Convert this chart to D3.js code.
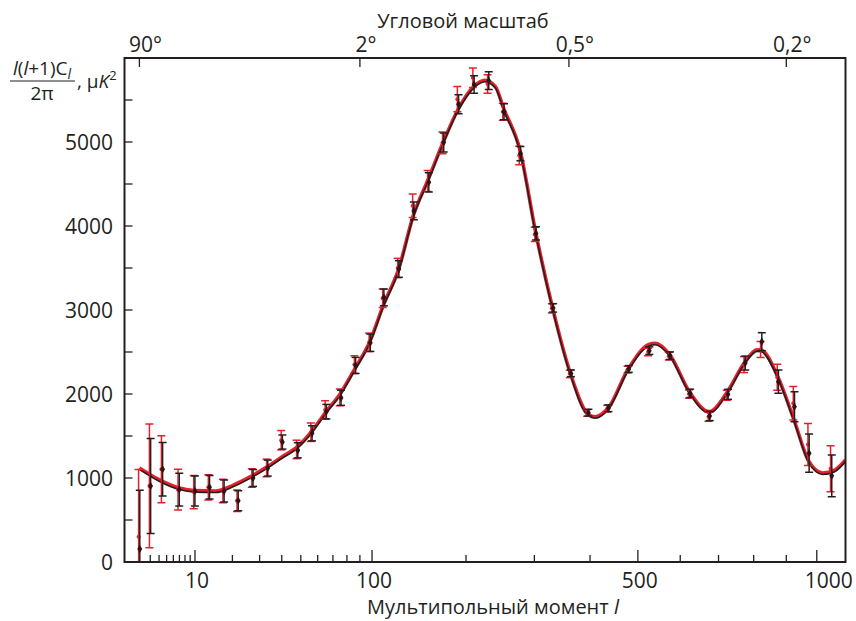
<!DOCTYPE html>
<html>
<head>
<meta charset="utf-8">
<script src="https://cdn.jsdelivr.net/npm/d3@7"></script>
<style>
  body { margin: 0; background: #fff; }
  svg text { font-family: "Open Sans", "Noto Sans", sans-serif; fill: #231f20; }
</style>
</head>
<body>
<div id="chart"></div>
<script>
// binned multipoles
const ells = [2, 3, 4.4, 6.9, 9.9, 13.3, 17.3, 21.8, 27.2, 33.3, 40.1, 48.1, 56.3, 65.3, 75.4,
  86.3, 98.2, 110, 124, 139, 155, 172, 190, 210, 230, 252, 277, 302, 331, 363, 396, 436,
  479, 525, 574, 624, 675, 725, 774, 823, 874, 925, 973, 1050];

// black data set
const blackD = [155, 905, 1105, 862, 845, 890, 845, 730, 1000, 1118, 1428, 1330, 1532, 1790, 1955,
  2340, 2610, 3150, 3488, 4180, 4520, 4995, 5450, 5685, 5730, 5360, 4862, 3912, 3025, 2246, 1778, 1830,
  2298, 2516, 2456, 2008, 1738, 1996, 2368, 2623, 2147, 1849, 1296, 1026];
const blackErr = [700, 565, 318, 195, 178, 141, 131, 119, 100, 95, 84, 90, 90, 86, 90,
  96, 103, 100, 99, 105, 114, 113, 113, 105, 105, 95, 85, 80, 50, 40, 40, 40,
  40, 45, 45, 50, 55, 60, 83, 107, 139, 179, 228, 249];

// red data set
const redD = [300, 906, 1105, 861, 833, 889, 845, 730, 1000, 1120, 1450, 1340, 1545, 1810, 1960,
  2350, 2615, 3140, 3500, 4240, 4535, 4990, 5510, 5765, 5690, 5360, 4840, 3900, 3020, 2240, 1775, 1825,
  2290, 2500, 2450, 2000, 1730, 1985, 2350, 2530, 2200, 1890, 1400, 1110];
const redErr = [800, 737, 399, 242, 198, 151, 140, 128, 110, 105, 115, 110, 110, 110, 100,
  105, 110, 110, 115, 140, 125, 130, 150, 115, 110, 100, 110, 85, 55, 45, 40, 40,
  40, 45, 45, 50, 55, 60, 95, 95, 155, 200, 250, 275];

// best-fit model curve
const modelL = [2, 4, 7, 10, 15, 20, 26, 33, 40, 48, 56, 65, 75, 86, 98, 110, 124, 139, 155, 172,
  190, 210, 225, 240, 252, 277, 302, 331, 363, 396, 410, 436, 479, 525, 540, 574, 624, 675, 725,
  774, 810, 823, 874, 925, 973, 1020, 1060, 1100];
const modelD = [1120, 980, 880, 850, 845, 910, 1010, 1130, 1250, 1370, 1545, 1780, 2000, 2300, 2620,
  3060, 3480, 4130, 4560, 5000, 5390, 5660, 5735, 5660, 5400, 4900, 3930, 3020, 2240, 1760, 1730,
  1830, 2300, 2590, 2605, 2470, 2020, 1790, 2030, 2380, 2525, 2520, 2200, 1690, 1200, 1060, 1090, 1214];

const xMajor = [10, 100, 500, 1000];
const xMinor = [3, 4, 5, 6, 7, 8, 9, 20, 30, 40, 50, 60, 70, 80, 90, 200, 300, 400, 600, 700, 800, 900];
const yMajor = [0, 1000, 2000, 3000, 4000, 5000];
const yMinor = [500, 1500, 2500, 3500, 4500, 5500];
const angleDeg = [90, 2, 0.5, 0.2];
const angleLabels = ["90°", "2°", "0,5°", "0,2°"];

const W = 856, H = 621;
const mLeft = 124.5, mRight = 845.5, mTop = 58, mBottom = 562;
const ink = "#231f20", red = "#e5202a";

const svg = d3.select("#chart").append("svg")
  .attr("width", W).attr("height", H);

const x = d3.scalePow().exponent(0.4).domain([1, 1100]).range([mLeft, mRight]);
const y = d3.scaleLinear().domain([0, 6000]).range([mBottom, mTop]);

svg.append("clipPath").attr("id", "plot")
  .append("rect").attr("x", mLeft).attr("y", mTop)
  .attr("width", mRight - mLeft).attr("height", mBottom - mTop);

// model curves: red thick, black thin over it
let line = d3.line().x((d, i) => x(modelL[i])).y(d => y(d)).curve(d3.curveMonotoneX);
let curves = svg.append("g").attr("clip-path", "url(#plot)");
curves.append("path").attr("d", line(modelD))
  .attr("fill", "none").attr("stroke", red).attr("stroke-width", 3.6);
curves.append("path").attr("d", line(modelD))
  .attr("transform", "translate(0,1.5)")
  .attr("fill", "none").attr("stroke", ink).attr("stroke-width", 1.6);

// error bars
function drawBars(g, vals, errs, color, dx) {
  let bars = g.selectAll("g").data(ells).enter().append("g")
    .attr("stroke", color).attr("stroke-width", 1.5);
  bars.append("line")
    .attr("x1", (d) => x(d) + dx).attr("x2", (d) => x(d) + dx)
    .attr("y1", (d, i) => y(vals[i] - errs[i])).attr("y2", (d, i) => y(vals[i] + errs[i]));
  bars.append("line")
    .attr("x1", (d) => x(d) + dx - 4).attr("x2", (d) => x(d) + dx + 4)
    .attr("y1", (d, i) => y(vals[i] + errs[i])).attr("y2", (d, i) => y(vals[i] + errs[i]));
  bars.append("line")
    .attr("x1", (d) => x(d) + dx - 4).attr("x2", (d) => x(d) + dx + 4)
    .attr("y1", (d, i) => y(vals[i] - errs[i])).attr("y2", (d, i) => y(vals[i] - errs[i]));
}
let redG = svg.append("g").attr("clip-path", "url(#plot)");
let blackG = svg.append("g").attr("clip-path", "url(#plot)");
drawBars(redG, redD, redErr, red, -0.8);
drawBars(blackG, blackD, blackErr, ink, 0.4);

redG.selectAll("circle").data(ells).enter().append("circle")
  .attr("cx", d => x(d) - 0.8).attr("cy", (d, i) => y(redD[i]))
  .attr("r", 2).attr("fill", red);
blackG.selectAll("path.pt").data(ells).enter().append("path")
  .attr("class", "pt")
  .attr("d", d3.symbol().type(d3.symbolDiamond).size(20))
  .attr("transform", (d, i) => "translate(" + (x(d) + 0.4) + "," + y(blackD[i]) + ")")
  .attr("fill", "#2b1416");

// frame
svg.append("rect").attr("x", mLeft).attr("y", mTop)
  .attr("width", mRight - mLeft).attr("height", mBottom - mTop)
  .attr("fill", "none").attr("stroke", ink).attr("stroke-width", 2);

// bottom axis ticks (inside)
let xt = svg.append("g").attr("stroke", ink).attr("stroke-width", 1.3);
xt.selectAll("line.maj").data(xMajor).enter().append("line")
  .attr("x1", d => x(d)).attr("x2", d => x(d)).attr("y1", mBottom).attr("y2", mBottom - 12);
xt.selectAll("line.min").data(xMinor).enter().append("line")
  .attr("x1", d => x(d)).attr("x2", d => x(d)).attr("y1", mBottom).attr("y2", mBottom - 7);
svg.append("g").selectAll("text").data(xMajor).enter().append("text")
  .attr("x", d => x(d) + (d === 1000 ? 12 : 2)).attr("y", 588)
  .attr("text-anchor", "middle").attr("font-size", 21)
  .text(d => d);

// left axis ticks
let yt = svg.append("g").attr("stroke", ink).attr("stroke-width", 1.3);
yt.selectAll("line").data(yMajor.concat(yMinor)).enter().append("line")
  .attr("x1", mLeft).attr("x2", mLeft + 8).attr("y1", d => y(d)).attr("y2", d => y(d));
svg.append("g").selectAll("text").data(yMajor).enter().append("text")
  .attr("x", 113).attr("y", d => y(d)).attr("dy", "0.36em")
  .attr("text-anchor", "end").attr("font-size", 21)
  .text(d => d);

// top axis: angular scale, l = 180/theta
let tt = svg.append("g").attr("stroke", ink).attr("stroke-width", 1.3);
tt.selectAll("line").data(angleDeg).enter().append("line")
  .attr("x1", d => x(180 / d)).attr("x2", d => x(180 / d)).attr("y1", mTop).attr("y2", mTop + 9);
svg.append("g").selectAll("text").data(angleDeg).enter().append("text")
  .attr("x", d => x(180 / d) + 6).attr("y", 52)
  .attr("text-anchor", "middle").attr("font-size", 21)
  .text((d, i) => angleLabels[i]);

svg.append("text").attr("x", 463).attr("y", 28)
  .attr("text-anchor", "middle").attr("font-size", 20)
  .text("Угловой масштаб");

// x title
let xl = svg.append("text").attr("x", 493).attr("y", 614)
  .attr("text-anchor", "middle").attr("font-size", 20);
xl.append("tspan").text("Мультипольный момент ");
xl.append("tspan").attr("font-style", "italic").text("l");

// y title as a fraction
let num = svg.append("text").attr("x", 42).attr("y", 75)
  .attr("text-anchor", "middle").attr("font-size", 19);
num.append("tspan").attr("font-style", "italic").text("l");
num.append("tspan").text("(");
num.append("tspan").attr("font-style", "italic").text("l");
num.append("tspan").text("+1)C");
num.append("tspan").attr("font-style", "italic").attr("font-size", 14).attr("dy", 4).text("l");
svg.append("line").attr("x1", 10).attr("x2", 75).attr("y1", 81).attr("y2", 81)
  .attr("stroke", ink).attr("stroke-width", 1.2);
svg.append("text").attr("x", 42).attr("y", 100)
  .attr("text-anchor", "middle").attr("font-size", 19).text("2π");
let unit = svg.append("text").attr("x", 77).attr("y", 88).attr("font-size", 19);
unit.append("tspan").text(", μ");
unit.append("tspan").attr("font-style", "italic").text("K");
unit.append("tspan").attr("font-size", 13).attr("dy", -8).text("2");
</script>
</body>
</html>
